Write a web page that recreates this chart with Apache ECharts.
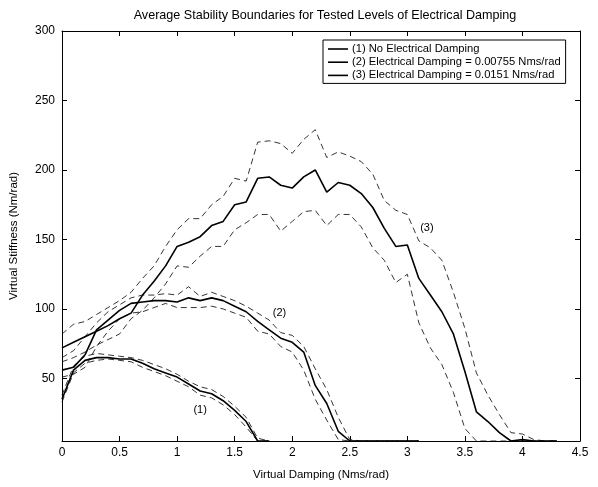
<!DOCTYPE html>
<html>
<head>
<meta charset="utf-8">
<script src="https://cdn.jsdelivr.net/npm/echarts@6/dist/echarts.min.js"></script>
<style>html,body{margin:0;padding:0;background:#fff}#c{width:598px;height:487px}</style>
</head>
<body>
<div id="c"></div>
<script>
var titleText = 'Average Stability Boundaries for Tested Levels of Electrical Damping';
var xName = 'Virtual Damping (Nms/rad)';
var yName = 'Virtual Stiffness (Nm/rad)';
var seriesNames = ['(1) No Electrical Damping', '(2) Electrical Damping = 0.00755 Nms/rad', '(3) Electrical Damping = 0.0151 Nms/rad'];
var yTicks = [50, 100, 150, 200, 250, 300];

var x1 = [0,0.1,0.2,0.3,0.4,0.5,0.6,0.7,0.8,0.9,1.0,1.1,1.2,1.3,1.4,1.5,1.6,1.7,1.8];
var c1Mean  = [35,56,63,65,65,64,64,61,57,54,51,46,41,39,34,27,19,5,5];
var c1Upper = [38,59,66,68,67,66,65,63,60,57,53,48,44,42,37,30,22,7,5];
var c1Lower = [33,54,61,63,64,63,62,58,55,52,48,44,38,36,31,24,15,5,5];

var x2 = [0,0.1,0.2,0.3,0.4,0.5,0.6,0.7,0.8,0.9,1.0,1.1,1.2,1.3,1.4,1.5,1.6,1.7,1.8,1.9,2.0,2.1,2.2,2.3,2.4,2.5,2.6,2.7,2.8,2.9,3.0,3.1];
var c2Mean  = [56,58,67,85,92,99,104,105,106,106,105,108,106,108,106,102,98,91,85,79,76,69,45,32,12,5,5,5,5,5,5,5];
var c2Upper = [65,70,80,90,98,103,108,110,110,111,110,116,109,112,109,106,102,97,92,83,81,73,57,42,22,6,5,5,5,5,5,5];
var c2Lower = [51,53,58,73,84,93,97,98,101,104,101,101,101,102,100,97,94,84,82,73,69,56,35,20,6,5,5,5,5,5,5,5];

var x3 = [0,0.1,0.2,0.3,0.4,0.5,0.6,0.7,0.8,0.9,1.0,1.1,1.2,1.3,1.4,1.5,1.6,1.7,1.8,1.9,2.0,2.1,2.2,2.3,2.4,2.5,2.6,2.7,2.8,2.9,3.0,3.1,3.2,3.3,3.4,3.5,3.6,3.7,3.8,3.9,4.0,4.1,4.2,4.3];
var c3Mean  = [72,76,80,84,88,93,97,110,120,131,145,148,152,160,163,175,177,194,195,189,187,195,200,184,191,189,183,173,158,145,146,122,110,98,82,55,26,19,11,5,6,5,5,5];
var c3Upper = [82,89,91,96,101,106,112,122,131,145,157,165,165,175,181,194,192,220,221,219,212,222,229,209,213,210,206,197,178,171,168,149,144,135,112,86,54,38,24,11,10,6,5,5];
var c3Lower = [62,65,69,74,78,82,93,99,108,118,131,130,138,145,145,157,162,168,168,156,163,170,171,160,168,168,159,144,135,119,125,90,72,60,40,14,5,5,5,5,5,5,5,5];

var curveLabels = [
  {text: '(1)', at: [1.2, 27]},
  {text: '(2)', at: [1.89, 97]},
  {text: '(3)', at: [3.17, 158]}
];

function pairs(xs, ys) { return xs.map(function (x, i) { return [x, ys[i]]; }); }

var FONT = 'Liberation Sans, Arial, Helvetica, sans-serif';

function solid(name, xs, ys, lab) {
  return {
    name: name, type: 'line', data: pairs(xs, ys), symbol: 'none',
    lineStyle: {color: '#000', width: 1.6, type: 'solid'},
    itemStyle: {color: '#000'},
    z: 3,
    markPoint: {
      symbol: 'circle', symbolSize: 0, silent: true,
      label: {show: true, formatter: lab.text, color: '#000', fontFamily: FONT, fontSize: 11, position: 'inside'},
      data: [{coord: lab.at}]
    }
  };
}
function dashed(xs, ys) {
  return {
    type: 'line', data: pairs(xs, ys), symbol: 'none',
    lineStyle: {color: '#000', width: 0.8, type: [6, 4]},
    z: 2
  };
}

var chart = echarts.init(document.getElementById('c'), null, {renderer: 'canvas'});
var axisCommon = {
  axisLine: {show: true, onZero: false, lineStyle: {color: '#000', width: 1}},
  splitLine: {show: false}
};
chart.setOption({
  animation: false,
  backgroundColor: '#fff',
  title: {
    text: titleText, left: 320, top: 4, textAlign: 'center',
    textStyle: {fontFamily: FONT, fontSize: 12.6, fontWeight: 'normal', color: '#000'}
  },
  legend: {
    orient: 'vertical', left: 323, top: 40,
    data: seriesNames.map(function (n) { return {name: n, icon: 'rect'}; }),
    itemWidth: 20, itemHeight: 1.6, itemGap: 1.2,
    padding: [3, 5, 2, 5],
    borderColor: '#000', borderWidth: 1, backgroundColor: '#fff',
    textStyle: {fontFamily: FONT, fontSize: 11.2, lineHeight: 12, color: '#000', padding: [0, 0, 0, -1]},
    selectedMode: false
  },
  grid: {left: 61, right: 18, top: 31, bottom: 46, containLabel: false},
  xAxis: [
    Object.assign({
      type: 'value', min: 0, max: 4.5, interval: 0.5, position: 'bottom',
      name: xName, nameLocation: 'middle', nameGap: 28,
      nameTextStyle: {fontFamily: FONT, fontSize: 11.5, color: '#000'},
      axisTick: {show: true, inside: true, length: 5, lineStyle: {color: '#000'}},
      axisLabel: {fontFamily: FONT, fontSize: 12, color: '#000', margin: 6}
    }, axisCommon),
    Object.assign({
      type: 'value', min: 0, max: 4.5, interval: 0.5, position: 'top',
      axisTick: {show: true, inside: true, length: 5, lineStyle: {color: '#000'}},
      axisLabel: {show: false}
    }, axisCommon)
  ],
  yAxis: [
    Object.assign({
      type: 'value', min: 5, max: 300, position: 'left',
      name: yName, nameLocation: 'middle', nameGap: 42, nameRotate: 90,
      nameTextStyle: {fontFamily: FONT, fontSize: 11.5, color: '#000'},
      axisTick: {show: true, inside: true, length: 5, customValues: yTicks, lineStyle: {color: '#000'}},
      axisLabel: {fontFamily: FONT, fontSize: 12, color: '#000', margin: 7, customValues: yTicks}
    }, axisCommon),
    Object.assign({
      type: 'value', min: 5, max: 300, position: 'right',
      axisTick: {show: true, inside: true, length: 5, customValues: yTicks, lineStyle: {color: '#000'}},
      axisLabel: {show: false, customValues: yTicks}
    }, axisCommon)
  ],
  series: [
    solid(seriesNames[0], x1, c1Mean, curveLabels[0]),
    solid(seriesNames[1], x2, c2Mean, curveLabels[1]),
    solid(seriesNames[2], x3, c3Mean, curveLabels[2]),
    dashed(x1, c1Upper), dashed(x1, c1Lower),
    dashed(x2, c2Upper), dashed(x2, c2Lower),
    dashed(x3, c3Upper), dashed(x3, c3Lower)
  ]
});
</script>
</body>
</html>
